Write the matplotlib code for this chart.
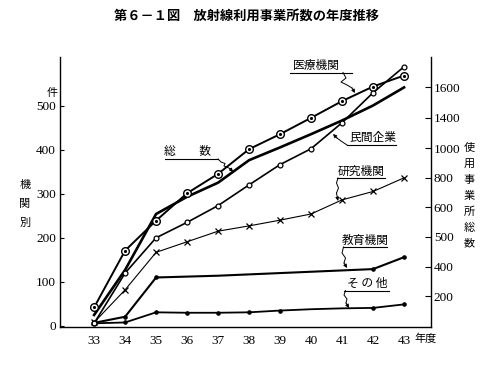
import matplotlib
matplotlib.use("Agg")
import matplotlib.pyplot as plt
from matplotlib.transforms import Affine2D

plt.rcParams['font.family'] = ['Noto Sans CJK JP', 'DejaVu Sans']

# Daten, linke Skala "件"
jahre = [33, 34, 35, 36, 37, 38, 39, 40, 41, 42, 43]
iryo = [42, 171, 239, 301, 345, 401, 435, 472, 510, 543, 568]        # 医療機関
minkan = [6, 120, 200, 235, 273, 320, 366, 402, 461, 529, 588]       # 民間企業
kenkyu = [8, 82, 167, 191, 215, 227, 240, 254, 286, 305, 336]        # 研究機関
kyoiku = [7, 21, 110, 112, 114, 117, 120, 123, 126, 129, 156]        # 教育機関
sonota = [6, 8, 31, 30, 30, 31, 35, 38, 40, 41, 49]                  # その他
# 総数 (rechte Skala, in Einheiten der linken Achse gezeichnet)
soshu = [25, 127, 254, 293, 325, 376, 405, 435, 466, 500, 541]

links_ticks = [0, 100, 200, 300, 400, 500]
rechts_labels = ["1600", "1400", "1000", "800", "600", "500", "400", "200"]
rechts_pos = [541, 472, 403, 336.5, 269.5, 202.5, 134.5, 68]

W, H = 495, 371
fig = plt.figure(figsize=(W / 100, H / 100), dpi=100)
ax = fig.add_axes([60 / W, 44 / H, 371 / W, 270 / H])

# Pixel-Koordinaten (oben links) -> Figur
px = Affine2D().scale(1 / W, -1 / H).translate(0, 1) + fig.transFigure

zahl_font = dict(family='Liberation Serif', size=9.5)

# Linien
ax.plot(jahre, soshu, color='black', lw=1.9, zorder=3)
ax.plot(jahre, iryo, color='black', lw=1.4, marker='o', ms=5.5,
        mfc='white', mec='black', mew=1.0, zorder=4)
ax.plot(jahre, iryo, linestyle='none', marker='.', ms=2.5, color='black', zorder=5)
ax.plot(jahre, minkan, color='black', lw=1.2, marker='o', ms=3.5,
        mfc='white', mec='black', mew=0.9, zorder=4)
ax.plot(jahre, kenkyu, color='black', lw=0.8, marker='x', ms=4.5, mew=0.9, zorder=4)
ax.plot(jahre, kyoiku, color='black', lw=1.5, zorder=3)
ax.plot(jahre[1:], kyoiku[1:], linestyle='none', marker='o', ms=2.3,
        color='black', markevery=[0, 1, 8, 9])
ax.plot(jahre, sonota, color='black', lw=1.3, zorder=3)
ax.plot(jahre[1:], sonota[1:], linestyle='none', marker='o', ms=2.3,
        color='black', markevery=[0, 1, 2, 3, 4, 5, 8, 9])
# gemeinsamer Startpunkt
ax.plot([jahre[0]], [minkan[0]], marker='o', ms=3.5, mfc='white', mec='black', zorder=6)

ax.set_xlim(31.9, 43.87)
ax.set_ylim(-2.3, 610)
ax.set_xticks(jahre)
ax.set_xticklabels([str(j) for j in jahre], **zahl_font)
ax.set_yticks(links_ticks)
ax.set_yticklabels([str(t) for t in links_ticks], **zahl_font)
ax.tick_params(axis='x', length=0, pad=6)
ax.tick_params(axis='y', direction='in', length=3, width=0.8, pad=3)
ax.spines['top'].set_visible(False)
ax.spines['right'].set_visible(False)
for s in ['left', 'bottom']:
    ax.spines[s].set_linewidth(1.0)

ax2 = ax.twinx()
ax2.set_ylim(ax.get_ylim())
ax2.set_yticks(rechts_pos)
ax2.set_yticklabels(rechts_labels, **zahl_font)
ax2.tick_params(axis='y', direction='in', length=4, width=0.8, pad=2)
ax2.spines['top'].set_visible(False)
ax2.spines['left'].set_visible(False)
ax2.spines['bottom'].set_visible(False)
ax2.spines['right'].set_linewidth(1.0)

# Texte
fig.text(0.497, 1 - 16 / H, "第６－１図　放射線利用事業所数の年度推移", ha='center', va='center',
         fontsize=9.5, fontweight='bold')
fig.text(52 / W, 1 - 93 / H, "件", ha='center', va='center', fontsize=8)
for i, z in enumerate("機関別"):
    fig.text(25 / W, 1 - (185 + 19 * i) / H, z, ha='center', va='center', fontsize=8)
for i, z in enumerate("使用事業所総数"):
    fig.text(469 / W, 1 - (148 + 15.9 * i) / H, z, ha='center', va='center', fontsize=8)
fig.text(426 / W, 1 - 339 / H, "年度", ha='center', va='center', fontsize=8)

# Beschriftungen mit Wellenlinie und Pfeil (Pixelkoordinaten)
labels = [
    ("医療機関", (316, 65), [(290, 72.5), (352, 72.5)],
     [(343, 72.5), (346, 78), (341, 82), (347, 85), (352, 88), (355, 93)]),
    ("民間企業", (373, 137), [(347, 145), (396, 145)],
     [(347, 145), (341, 141), (337, 138), (333, 134)]),
    ("研究機関", (361, 171), [(337, 178), (385, 178)],
     [(338, 178), (336.5, 183), (338.5, 188), (336.5, 193), (338, 201)]),
    ("教育機関", (365, 240), [(342.5, 247), (387, 247)],
     [(343.5, 247), (342, 253), (345.5, 258), (344, 263), (347, 268)]),
    ("そ の 他", (367, 283), [(344, 290.5), (389, 290.5)],
     [(345.5, 290.5), (344, 295), (347, 299), (346, 303), (349, 308)]),
    ("総　　数", (187, 152), [(165, 159), (218, 159)],
     [(218, 159), (221, 162), (225, 163.5), (224, 166), (230, 168.5), (233, 172)]),
]
for text, (tx, ty), strich, welle in labels:
    fig.text(tx / W, 1 - ty / H, text, ha='center', va='center', fontsize=8.5)
    ax.plot([p[0] for p in strich], [p[1] for p in strich], color='black', lw=0.8,
            transform=px, clip_on=False)
    ax.plot([p[0] for p in welle[:-1]], [p[1] for p in welle[:-1]], color='black', lw=0.7,
            transform=px, clip_on=False)
    ax.annotate("", xy=welle[-1], xycoords=px, xytext=welle[-2], textcoords=px,
                arrowprops=dict(arrowstyle='-|>', color='black', lw=0.7,
                                mutation_scale=5, shrinkA=0, shrinkB=0))

fig.savefig("out.png", dpi=100)
